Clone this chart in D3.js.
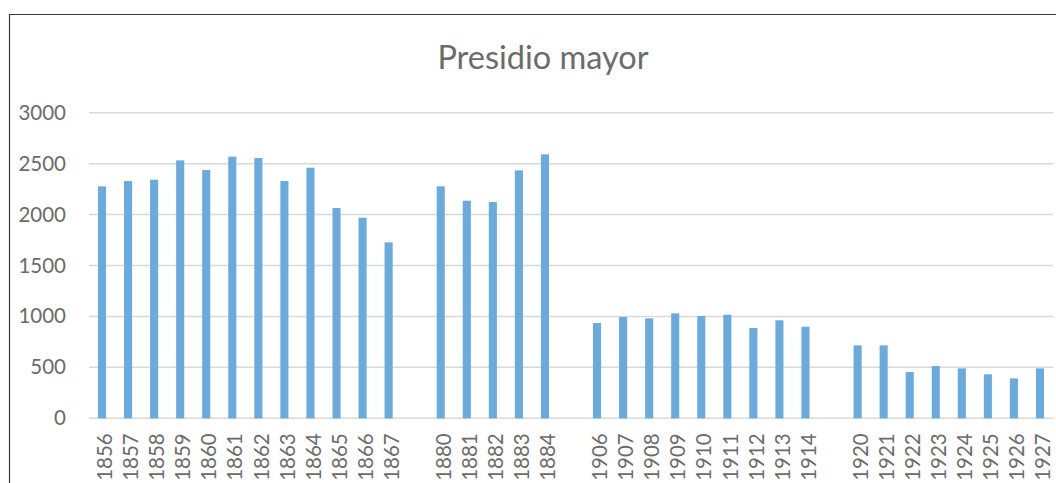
<!DOCTYPE html>
<html>
<head>
<meta charset="utf-8">
<script src="https://cdn.jsdelivr.net/npm/d3@7"></script>
<style>
  body { margin: 0; background: #fff; }
  svg { display: block; font-family: Lato, "Open Sans", sans-serif; }
</style>
</head>
<body>
<div id="chart"></div>
<script>
// Slots along the x axis; empty slots keep the gaps between periods
const slots = [
  "1856", "1857", "1858", "1859", "1860", "1861", "1862", "1863", "1864", "1865", "1866", "1867", "",
  "1880", "1881", "1882", "1883", "1884", " ",
  "1906", "1907", "1908", "1909", "1910", "1911", "1912", "1913", "1914", "  ",
  "1920", "1921", "1922", "1923", "1924", "1925", "1926", "1927"
];

const years = [
  "1856", "1857", "1858", "1859", "1860", "1861", "1862", "1863", "1864", "1865", "1866", "1867",
  "1880", "1881", "1882", "1883", "1884",
  "1906", "1907", "1908", "1909", "1910", "1911", "1912", "1913", "1914",
  "1920", "1921", "1922", "1923", "1924", "1925", "1926", "1927"
];

const values = [
  2277, 2329, 2342, 2532, 2437, 2568, 2555, 2329, 2460, 2064, 1969, 1727,
  2277, 2136, 2123, 2434, 2591,
  935, 994, 981, 1030, 1004, 1017, 886, 962, 899,
  716, 716, 454, 513, 490, 432, 392, 490
];

const yTicks = [0, 500, 1000, 1500, 2000, 2500, 3000];

const W = 1056, H = 483;
const plot = { left: 89, right: 1053, top: 112.7, bottom: 418.3 };

const data = years.map((y, i) => ({ year: y, value: values[i] }));

const svg = d3.select("#chart").append("svg")
  .attr("width", W)
  .attr("height", H);

svg.append("rect").attr("width", W).attr("height", H).attr("fill", "#fff");

// chart frame (only top and left edges are visible in the crop)
svg.append("path")
  .attr("d", `M9.5,${H} V14.5 H${W}`)
  .attr("fill", "none")
  .attr("stroke", "#3a3a3a")
  .attr("stroke-width", 1.2);

const x = d3.scaleBand().domain(slots).range([plot.left, plot.right]).paddingInner(0.69).paddingOuter(0.345);
const y = d3.scaleLinear().domain([0, 3000]).range([plot.bottom, plot.top]);

// title
svg.append("text")
  .attr("x", 543)
  .attr("y", 69)
  .attr("text-anchor", "middle")
  .style("font-size", "32.5px")
  .style("fill", "#6b6b6b")
  .text("Presidio mayor");

// gridlines
svg.append("g")
  .selectAll("line")
  .data(yTicks)
  .join("line")
  .attr("x1", plot.left)
  .attr("x2", plot.right)
  .attr("y1", d => y(d))
  .attr("y2", d => y(d))
  .attr("stroke", "#d9d9d9")
  .attr("stroke-width", 1.5);

// y labels
const yAxis = svg.append("g")
  .attr("transform", `translate(${plot.left},0)`)
  .call(d3.axisLeft(y).tickValues(yTicks).tickFormat(d3.format("d")).tickSize(0).tickPadding(23));
yAxis.select(".domain").remove();
yAxis.selectAll("text")
  .style("font-size", "20.5px")
  .style("font-family", "Lato, 'Open Sans', sans-serif")
  .attr("fill", "#6b6b6b");

// bars
svg.append("g")
  .selectAll("rect")
  .data(data)
  .join("rect")
  .attr("x", d => x(d.year))
  .attr("width", x.bandwidth())
  .attr("y", d => y(d.value))
  .attr("height", d => y(0) - y(d.value))
  .attr("fill", "#6aaadc");

// x axis
const xAxis = svg.append("g")
  .attr("transform", `translate(0,${plot.bottom})`)
  .call(d3.axisBottom(x).tickSize(0).tickPadding(0));
xAxis.select(".domain").remove();
xAxis.selectAll("text")
  .attr("transform", "rotate(-90)")
  .attr("text-anchor", "end")
  .attr("x", -15)
  .attr("y", 3)
  .attr("dy", "0.35em")
  .style("font-size", "20.5px")
  .style("font-family", "Lato, 'Open Sans', sans-serif")
  .attr("fill", "#6b6b6b");
</script>
</body>
</html>
